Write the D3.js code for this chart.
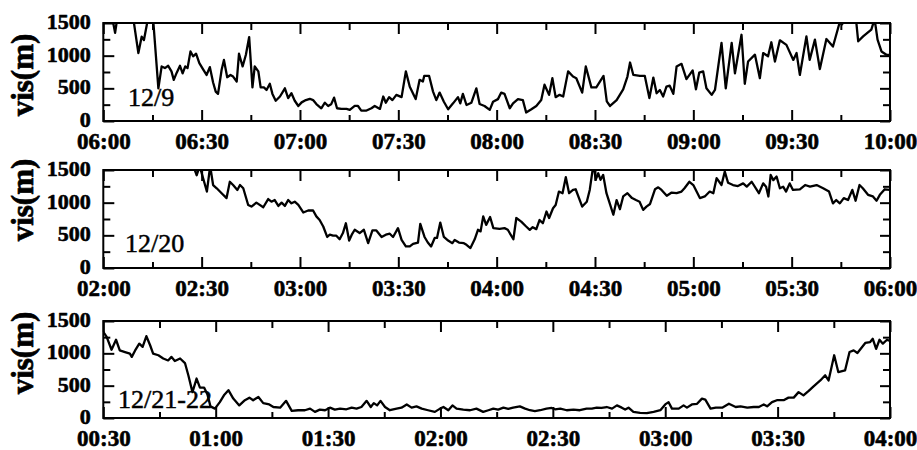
<!DOCTYPE html>
<html>
<head>
<meta charset="utf-8">
<script src="https://cdn.jsdelivr.net/npm/d3@7"></script>
<style>
  body { margin: 0; background: #fff; }
  svg { display: block; }
</style>
</head>
<body>
<svg id="chart" width="917" height="450"></svg>
<script>
// Visibility (m) on three fog days; times are minutes after each window's start.

const dec09Ticks = ["06:00","06:30","07:00","07:30","08:00","08:30","09:00","09:30","10:00"];
const dec20Ticks = ["02:00","02:30","03:00","03:30","04:00","04:30","05:00","05:30","06:00"];
const dec21Ticks = ["00:30","01:00","01:30","02:00","02:30","03:00","03:30","04:00"];

const visTicks = [0, 500, 1000, 1500];
const visMinorTicks = [250, 750, 1250];

const dec09Min = [0,2.8,3.6,4.4,9.0,10.7,11.7,12.4,13.6,15.2,16.8,17.8,18.8,19.8,20.8,21.5,22.4,23.4,24.2,25.0,25.7,26.6,27.4,28.3,29.3,30.5,31.5,32.5,33.5,34.3,35.0,36.1,36.8,37.8,38.8,39.6,40.7,41.4,42.5,43.5,44.5,45.5,46.2,47.3,48.0,49.0,49.8,50.8,51.6,52.6,53.9,55.4,56.4,57.4,58.4,59.5,60.5,61.8,
  63,64,65,66.5,67.6,68.6,69.5,70.4,71.3,72.6,74.2,75.2,76.7,77.7,78.7,80.3,81.8,82.8,84.4,85.4,86.2,87.2,88.2,89.4,91.0,92.3,93.5,95.3,96.5,97.5,97.9,99.4,100.6,101.6,102.6,103.9,105.2,106.7,108.2,108.9,109.7,110.8,112.3,113.8,114.8,116.3,117.9,118.9,120.4,121.4,122.4,124.0,125.0,126.5,128.0,129.0,130.6,132.1,133.6,134.6,136.0,137.0,138.0,139.2,140.3,141.8,143.3,144.3,146.1,147.2,148.9,150.4,152.6,153.6,154.6,
  156.6,158.6,159.9,160.7,161.7,163.7,165.2,166.6,167.8,168.8,169.8,170.8,171.8,172.8,173.9,174.9,176.4,177.9,179.8,180.8,181.8,183.0,184.0,185.6,186.6,188.6,189.9,191.7,192.7,194.7,195.7,196.7,198.8,200.3,201.3,202.8,203.8,204.9,206.4,208.4,210.5,211.5,212.5,214.5,215.5,217.1,218.6,220.6,222.6,224.6,225.4,226.5,229.5,230.3,231.8,234.3,235.3,236.2,237.4,238.9,240];
const dec09Vis = [1650,1560,1350,1620,1620,1040,1290,1240,1560,1560,500,835,810,845,760,630,740,845,730,835,810,1065,990,1030,885,785,705,825,590,450,415,785,935,670,705,680,605,1030,835,1015,1285,515,835,760,515,515,475,570,415,310,375,500,350,425,310,230,285,320,
  340,320,260,195,280,230,255,358,195,185,185,170,230,230,160,160,195,230,185,375,280,365,320,400,365,760,525,335,630,605,690,690,450,320,435,295,180,270,365,270,415,245,280,500,260,230,170,295,335,435,415,195,270,335,320,130,180,230,320,555,400,655,365,400,375,760,680,655,435,835,515,515,690,300,230,
  320,485,680,895,705,690,690,350,665,425,475,375,525,540,415,835,875,640,775,485,740,760,500,400,475,1195,500,1195,730,1320,570,910,1015,655,1040,990,1205,910,1235,1165,935,1040,705,1295,935,1245,795,1255,1140,1500,1480,1620,1620,1220,1295,1400,1560,1245,1065,1015,1010];

const dec20Min = [26.8,28.5,29.4,31.6,32.6,33.5,34.6,36.1,37.6,38.6,39.6,40.9,41.7,42.7,44.2,45.2,46.7,48.8,50.3,51.3,52.3,53.4,54.4,55.4,56.4,57.4,58.4,59.5,60.5,61.0,62.5,64.0,65.0,66.0,67.1,68.3,69.1,70.1,71.1,72.1,73.1,74.0,75.0,75.8,76.7,78.2,79.5,80.8,82.1,83.3,84.9,86.2,87.4,88.4,89.9,91.0,92.3,93.5,94.5,96.0,96.7,98.0,99.0,100.0,101.1,101.8,102.8,103.9,105.2,106.5,107.2,108.5,110.0,110.8,112.0,113.3,114.3,115.1,115.9,116.8,118.0,119.0,120.9,122.4,123.4,125.1,126.0,127.5,129.0,130.1,131.0,132.1,133.1,134.1,135.2,136.0,137.2,138.0,139.0,140.1,141.1,142.1,143.3,144.1,146.1,147.5,148.4,149.2,149.7,150.2,151.0,151.7,152.5,153.5,154.5,
  155.6,156.6,157.6,158.6,159.9,161.3,162.5,163.6,164.7,165.7,166.8,168.3,169.3,170.3,171.9,173.4,174.9,176.4,177.3,178.8,180.0,181.0,182.0,183.5,185.0,186.1,187.1,188.6,189.6,190.6,192.1,193.6,195.2,196.3,197.8,200.0,201.3,202.2,202.9,203.6,204.4,205.4,206.4,207.4,208.3,209.4,210.4,212.5,214.1,215.6,217.6,219.6,221.4,222.6,223.6,224.7,225.9,227.2,228.5,229.5,230.7,231.7,233.3,234.8,235.9,236.9,238.4,240];
const dec20Vis = [1650,1420,1560,1170,1560,1270,1220,1145,1070,1320,1270,1195,1270,1220,965,940,1000,930,1055,1015,1040,950,1000,950,1040,990,1015,965,890,850,880,880,790,735,635,475,510,495,495,440,535,685,420,510,585,535,585,380,575,575,475,510,525,475,610,430,330,330,370,390,675,475,390,330,460,460,695,475,420,380,430,390,380,355,305,440,585,560,790,660,780,610,600,610,585,440,765,710,635,585,625,595,735,685,865,765,915,965,1170,1145,1390,1145,1195,1205,940,1015,1195,1475,1560,1350,1450,1350,1425,1145,990,
  815,1040,900,1095,1145,1070,1040,1015,890,940,980,1205,1235,1195,1105,1155,1145,1170,1220,1320,1270,1170,1070,1095,1170,1145,1375,1270,1475,1305,1270,1255,1295,1245,1320,1145,1295,1245,1095,1425,1345,1400,1220,1245,1170,1295,1195,1205,1270,1245,1270,1220,1170,990,1040,990,1070,1040,1195,1030,1270,1220,1120,1095,1030,1120,1205,1195];

const dec21Min = [0,0.9,2.2,3.4,4.4,5.8,7.1,7.6,8.5,9.6,10.5,11.5,12.5,13.3,14.7,16.0,17.3,18.2,19.1,20.5,21.8,22.7,23.8,24.9,25.8,26.9,27.8,28.6,29.8,31.1,32.2,33.4,34.7,36.3,37.8,39.0,40.0,41.4,42.7,44.3,45.4,47.2,48.8,50.3,52.0,53.8,55.2,56.5,57.8,59.2,60.5,61.8,63.2,64.9,66.3,67.6,68.9,70.3,71.4,72.2,73.1,74.0,75.2,76.5,78.3,79.6,81.0,82.3,83.6,85.0,86.7,88.5,89.9,90.8,92.1,93.2,94.3,96.1,97.9,99.6,101.4,102.8,104.1,105.4,106.8,108.1,109.4,111.2,112.6,113.9,115.2,116.6,118.3,119.7,120.6,122.0,123.7,125.5,127.2,129.0,130.4,131.7,133.0,134.4,135.8,137.1,138.4,139.3,140.2,141.5,143.3,145.1,146.9,148.7,150.0,150.9,151.8,153.6,154.9,155.8,157.1,158.5,159.8,160.7,162.1,163.5,165.2,167.0,168.8,170.1,171.9,173.6,175.0,176.3,177.2,178.5,179.8,181.6,182.9,184.3,185.6,186.9,188.3,189.6,191.4,192.7,193.6,195.1,196.2,198.0,199.2,200.3,201.3,203.4,204.7,205.4,206.3,207.2,208.1,209.2,210];
const dec21Vis = [1330,1255,1055,1210,1045,1020,995,945,1045,1150,1100,1265,1125,995,970,920,890,945,880,920,850,660,400,610,470,470,365,180,145,245,350,430,300,195,275,315,275,325,230,210,170,160,265,110,120,120,145,95,130,120,160,130,145,135,160,145,170,265,170,230,195,265,170,120,145,160,210,160,180,145,120,95,145,170,120,195,145,130,120,145,95,120,145,130,160,140,160,180,145,120,105,120,145,155,135,145,120,130,120,145,145,160,155,170,145,195,160,130,160,95,80,75,95,120,210,245,145,145,195,160,210,220,300,285,145,160,160,220,170,180,160,170,170,210,180,245,275,275,315,315,400,350,420,490,580,660,580,970,710,735,1020,1045,1005,1160,1175,1225,1070,1210,1150,1210,1190];

const panels = [
  { tag: "12/9",     mins: dec09Min, vis: dec09Vis, ticks: dec09Ticks, span: 240, top: 23,  height: 98, tagX: 128, tagY: 106, titleY: 75 },
  { tag: "12/20",    mins: dec20Min, vis: dec20Vis, ticks: dec20Ticks, span: 240, top: 170, height: 98, tagX: 125, tagY: 252, titleY: 200 },
  { tag: "12/21-22", mins: dec21Min, vis: dec21Vis, ticks: dec21Ticks, span: 210, top: 321, height: 97, tagX: 118, tagY: 408, titleY: 353 }
];

const left = 103.3, right = 890;
const width = right - left;
const font = "'Liberation Serif', 'Times New Roman', serif";

const svg = d3.select("#chart");

// heavy serif lettering
const heavy = (sel, size, extra) => sel
  .attr("fill", "#000")
  .attr("stroke", "#000")
  .attr("stroke-width", extra)
  .attr("stroke-linejoin", "round")
  .style("font-family", font)
  .style("font-weight", "bold")
  .style("font-size", size + "px");

panels.forEach((p, pi) => {
  const g = svg.append("g").attr("transform", `translate(${left},${p.top})`);
  const x = d3.scaleLinear().domain([0, p.span]).range([0, width]);
  const y = d3.scaleLinear().domain([0, 1500]).range([p.height, 0]);

  const major = p.ticks.map((_, i) => i * 30);
  const minor = p.ticks.slice(1).map((_, i) => i * 30 + 15);

  // clip the trace to the plot box
  const clipId = "clip" + pi;
  g.append("clipPath").attr("id", clipId)
    .append("rect").attr("width", width).attr("height", p.height);

  const pts = p.mins.map((m, i) => [m, p.vis[i]]);
  g.append("path")
    .datum(pts)
    .attr("clip-path", `url(#${clipId})`)
    .attr("fill", "none")
    .attr("stroke", "#000")
    .attr("stroke-width", 2.3)
    .attr("stroke-linejoin", "round")
    .attr("d", d3.line().x(d => x(d[0])).y(d => y(d[1])));

  const styleAxis = sel => {
    sel.select(".domain").remove();
    sel.selectAll(".tick line").attr("stroke", "#000").attr("stroke-width", 2);
  };

  // bottom: labelled half-hour ticks + quarter-hour minor ticks, all pointing inward
  g.append("g").attr("transform", `translate(0,${p.height})`)
    .call(d3.axisBottom(x).tickValues(major).tickFormat((d, i) => p.ticks[i])
      .tickSizeInner(-11).tickSizeOuter(0).tickPadding(12))
    .call(styleAxis)
    .selectAll("text").call(heavy, 23, 0.6);
  g.append("g").attr("transform", `translate(0,${p.height})`)
    .call(d3.axisBottom(x).tickValues(minor).tickFormat("").tickSizeInner(-6).tickSizeOuter(0))
    .call(styleAxis);

  // top mirror ticks
  g.append("g")
    .call(d3.axisTop(x).tickValues(major).tickFormat("").tickSizeInner(-11).tickSizeOuter(0))
    .call(styleAxis);
  g.append("g")
    .call(d3.axisTop(x).tickValues(minor).tickFormat("").tickSizeInner(-7).tickSizeOuter(0))
    .call(styleAxis);

  // left visibility axis
  g.append("g")
    .call(d3.axisLeft(y).tickValues(visTicks).tickFormat(d3.format("d"))
      .tickSizeInner(-11).tickSizeOuter(0).tickPadding(12.5))
    .call(styleAxis)
    .selectAll("text").attr("dy", "0.25em").call(heavy, 22, 0.6);
  g.append("g")
    .call(d3.axisLeft(y).tickValues(visMinorTicks).tickFormat("").tickSizeInner(-7).tickSizeOuter(0))
    .call(styleAxis);

  // right mirror ticks
  g.append("g").attr("transform", `translate(${width},0)`)
    .call(d3.axisRight(y).tickValues(visTicks).tickFormat("").tickSizeInner(-10).tickSizeOuter(0))
    .call(styleAxis);
  g.append("g").attr("transform", `translate(${width},0)`)
    .call(d3.axisRight(y).tickValues(visMinorTicks).tickFormat("").tickSizeInner(-7).tickSizeOuter(0))
    .call(styleAxis);

  // frame
  g.append("rect")
    .attr("width", width).attr("height", p.height)
    .attr("fill", "none").attr("stroke", "#000").attr("stroke-width", 2);

  // day tag inside the plot
  svg.append("text")
    .attr("x", p.tagX).attr("y", p.tagY)
    .style("font-family", font).style("font-size", "26px")
    .attr("fill", "#000").attr("stroke", "#000").attr("stroke-width", 0.5)
    .text(p.tag);

  // y title
  svg.append("text")
    .attr("transform", `translate(22.5,${p.titleY}) rotate(-90)`)
    .attr("text-anchor", "middle")
    .attr("dy", "0.35em")
    .call(heavy, 31, 0.7)
    .text("vis(m)");
});
</script>
</body>
</html>
